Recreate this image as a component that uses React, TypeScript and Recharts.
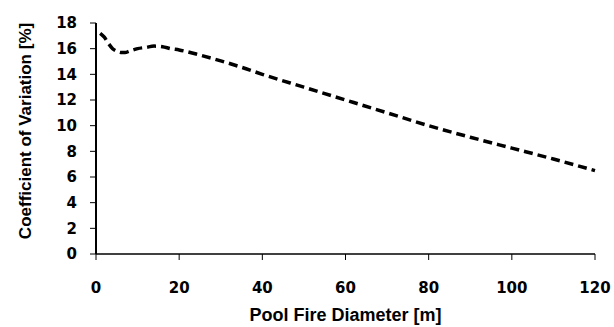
import { LineChart, Line, XAxis, YAxis } from 'recharts';

// Pool fire diameter [m] and coefficient of variation [%]
const diameters = [1, 2, 3, 4, 5, 6, 7, 8, 10, 12, 14, 16, 18, 20, 25, 30, 35, 40, 50, 60, 70, 80, 90, 100, 110, 120];
const cov = [17.2, 16.9, 16.4, 16.0, 15.8, 15.7, 15.7, 15.8, 16.0, 16.1, 16.2, 16.15, 16.0, 15.9, 15.5, 15.05, 14.55, 14.0, 13.0, 12.0, 11.0, 10.0, 9.1, 8.25, 7.4, 6.5];

const xTicks = [0, 20, 40, 60, 80, 100, 120];
const yTicks = [0, 2, 4, 6, 8, 10, 12, 14, 16, 18];

const data = diameters.map((d, i) => ({ diameter: d, cov: cov[i] }));

const tickStyle = {
  fontFamily: 'DejaVu Sans',
  fontWeight: 700,
  fontSize: 15,
  fill: '#000',
};

const titleFont = "'Liberation Sans', Arial, sans-serif";

const YTitle = () => (
  <text
    x={25}
    y={131}
    transform="rotate(-90, 25, 131)"
    textAnchor="middle"
    dominantBaseline="central"
    fontFamily={titleFont}
    fontWeight={700}
    fontSize={17}
    fill="#000"
  >
    Coefficient of Variation [%]
  </text>
);

export default function App() {
  return (
    <div style={{ position: 'absolute', left: 0, top: 0, background: '#fff' }}>
      <LineChart
        width={614}
        height={327}
        data={data}
        margin={{ top: 23, right: 19, left: 0, bottom: 0 }}
      >
        <XAxis
          dataKey="diameter"
          type="number"
          domain={[0, 120]}
          ticks={xTicks}
          height={73}
          axisLine={{ stroke: '#000', strokeWidth: 1.5 }}
          tickLine={{ stroke: '#000', strokeWidth: 1 }}
          tickSize={6}
          tickMargin={22}
          tick={tickStyle}
          label={{
            value: 'Pool Fire Diameter [m]',
            position: 'insideBottom',
            offset: 6,
            style: { fontFamily: titleFont, fontWeight: 700, fontSize: 18, fill: '#000' },
          }}
        />
        <YAxis
          type="number"
          domain={[0, 18]}
          ticks={yTicks}
          width={96}
          axisLine={{ stroke: '#000', strokeWidth: 2 }}
          tickLine={{ stroke: '#000', strokeWidth: 1 }}
          tickSize={6}
          tickMargin={13}
          tick={tickStyle}
          label={<YTitle />}
        />
        <Line
          type="monotone"
          dataKey="cov"
          stroke="#000"
          strokeWidth={3.5}
          strokeDasharray="9 5"
          dot={false}
          isAnimationActive={false}
        />
      </LineChart>
    </div>
  );
}
